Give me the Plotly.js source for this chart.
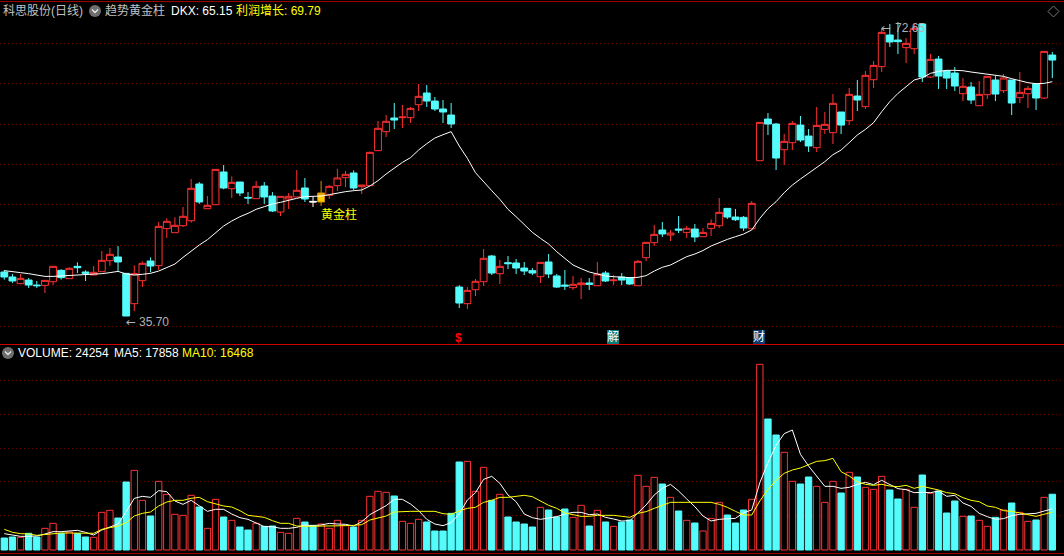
<!DOCTYPE html>
<html><head><meta charset="utf-8">
<script src="https://cdn.plot.ly/plotly-3.0.1.min.js"></script>
<style>html,body{margin:0;padding:0;background:#000;overflow:hidden}#c{width:1064px;height:556px}</style>
</head><body><div id="c"></div>
<script>
const open=[41.23,40.60,39.76,40.22,39.59,39.55,40.01,41.44,40.39,41.94,41.23,40.85,41.27,42.65,43.12,41.06,37.25,40.14,42.61,42.03,
46.68,46.17,47.05,47.68,52.29,49.19,49.69,53.80,51.70,52.54,50.61,50.45,52.04,50.78,48.77,50.41,50.66,51.79,50.11,50.03,
50.87,52.08,53.09,53.67,51.95,52.08,56.48,58.87,60.59,60.63,60.63,62.26,63.73,62.72,61.72,60.96,39.34,37.25,39.01,40.01,
43.24,41.02,42.40,42.36,41.73,41.40,40.64,42.49,40.73,39.59,39.26,39.64,39.85,39.51,41.10,40.14,40.60,40.47,39.51,43.03,
44.92,46.51,45.88,46.63,46.21,46.63,45.67,46.72,47.05,49.23,48.14,48.10,46.67,55.22,60.46,59.83,56.60,57.48,59.70,58.32,
56.86,59.16,58.74,61.34,60.25,63.35,62.01,65.40,67.04,71.02,70.39,69.43,69.30,72.40,65.74,68.00,66.49,66.24,63.64,64.48,
62.13,63.52,65.36,64.02,65.36,63.14,63.64,64.86,63.10,68.50];
const close=[40.60,40.10,40.43,39.59,39.51,40.18,41.94,40.52,41.69,41.77,41.06,41.19,42.70,43.45,42.49,35.70,41.02,42.32,41.98,46.97,
47.60,47.10,48.23,51.75,50.03,49.61,54.13,51.79,52.50,51.16,50.53,52.00,50.66,48.90,50.74,50.74,51.50,50.41,50.03,51.16,
52.00,53.05,53.51,51.79,52.16,56.27,59.29,60.17,60.33,60.71,61.80,63.31,62.72,61.72,61.34,59.83,37.33,38.92,40.06,42.95,
41.10,41.94,42.28,41.73,41.35,41.10,42.44,40.98,39.34,39.47,39.68,39.85,39.68,40.98,40.10,40.22,40.22,39.72,42.57,44.96,
45.96,46.01,46.13,46.51,46.72,45.63,46.21,47.34,48.73,48.14,47.80,46.76,49.86,60.04,59.83,55.56,57.65,59.91,57.82,57.07,
59.66,59.79,62.43,59.70,63.56,62.85,65.95,67.20,71.35,70.14,70.18,69.97,71.86,65.74,67.96,65.86,65.61,64.61,64.57,62.85,
63.56,65.82,63.60,65.61,62.47,63.81,64.31,63.10,68.96,67.87];
const high=[41.48,40.98,40.98,40.47,40.10,40.18,41.94,41.57,41.82,42.45,41.44,41.98,43.87,44.25,44.50,41.06,42.07,42.57,43.07,47.51,
47.98,48.10,49.40,52.92,52.54,50.78,54.13,54.68,53.25,52.54,51.28,52.67,52.54,51.28,50.78,51.16,54.05,53.05,50.66,52.67,
52.17,54.18,53.92,54.01,52.16,56.35,60.21,60.96,62.47,62.22,61.97,64.86,64.73,63.23,62.85,62.47,39.59,39.34,40.35,44.12,
43.37,42.74,43.24,42.86,42.49,41.73,42.44,43.49,40.98,41.48,40.73,40.47,40.47,42.49,41.35,40.85,41.10,40.60,42.74,45.00,
47.14,47.51,46.51,48.27,47.01,47.26,46.76,47.85,50.53,49.27,49.15,48.27,50.15,60.08,61.21,59.96,58.57,60.21,60.84,59.20,
61.97,61.34,63.60,61.34,64.36,65.36,66.49,67.75,71.86,72.40,72.65,70.64,72.48,72.40,68.63,68.38,66.62,67.00,65.61,65.11,
65.24,65.86,65.86,66.12,65.36,66.37,64.61,64.98,68.96,68.88];
const low=[40.27,39.85,39.76,39.22,39.22,38.59,39.59,40.27,40.39,41.10,40.10,40.85,41.27,41.98,41.35,35.70,36.33,39.35,41.19,41.48,
45.50,46.17,46.89,47.43,49.78,49.19,49.69,51.62,50.53,50.78,49.78,50.45,49.78,48.77,48.27,49.15,50.66,50.03,49.40,49.53,
50.41,51.41,51.91,51.54,51.03,52.08,56.48,58.20,59.20,59.33,59.96,61.47,61.97,61.47,59.96,59.33,36.70,36.58,38.21,39.47,
40.85,39.72,41.61,40.98,40.85,40.85,39.85,40.47,39.22,38.97,38.97,37.83,38.97,39.51,39.97,39.59,39.59,39.59,39.51,42.61,
44.50,45.63,45.13,46.13,45.50,45.00,45.67,45.75,46.76,47.89,47.64,46.38,46.59,55.22,58.45,54.05,54.68,56.56,57.57,56.31,
56.31,58.57,57.32,58.57,59.70,61.46,61.72,64.36,66.37,69.51,68.63,67.50,68.63,65.11,65.61,64.23,64.23,63.98,62.72,62.35,
62.13,62.97,62.72,63.73,60.96,62.47,61.84,61.59,62.97,65.61];
const dkx=[41.40,41.23,41.15,41.02,40.81,40.68,40.68,40.73,40.77,40.81,40.85,40.89,41.02,41.15,41.31,40.98,40.85,40.94,41.06,41.35,
41.77,42.23,43.07,43.87,44.62,45.29,46.13,47.01,47.64,48.18,48.60,49.11,49.44,49.78,49.99,50.28,50.49,50.70,50.74,50.78,
50.95,51.16,51.33,51.45,51.54,52.04,52.71,53.55,54.30,55.01,55.60,56.56,57.36,58.07,58.49,58.87,57.07,55.52,53.71,52.54,
51.45,50.36,49.11,48.18,47.14,46.21,45.46,44.75,43.78,42.90,42.11,41.65,41.23,40.98,40.73,40.64,40.56,40.52,40.56,40.77,
41.35,41.82,42.11,42.65,43.16,43.49,43.93,44.50,44.94,45.33,45.67,46.00,46.51,47.97,49.19,50.07,51.20,52.16,52.92,53.63,
54.38,55.10,55.98,56.56,57.49,58.45,59.16,60.00,61.38,62.64,63.68,64.52,65.36,65.65,66.20,66.45,66.58,66.58,66.53,66.37,
66.24,66.16,65.95,65.82,65.53,65.28,65.03,64.90,64.94,65.15];
const volume=[5220,5655,5510,7250,5655,9425,11600,7250,7830,7105,5655,5510,16385,17255,13920,29580,34655,21605,14790,29870,
24215,15515,15080,23780,18705,9425,22040,14355,12905,10005,8700,11600,10295,10440,7685,7250,13775,12180,10730,11310,
9425,12905,10730,10005,12905,23345,25520,25085,23490,12470,11600,13340,12180,8265,8265,15950,38280,38570,25520,35960,
21605,24215,14355,12180,11310,10005,18560,17400,14355,17835,14210,19430,10440,17255,12180,10295,12180,13050,32480,27695,
31610,28710,22910,16965,12905,11745,8265,13775,20735,15225,11745,17400,22040,80765,56985,50025,42485,29870,28710,31755,
27695,20735,29870,24795,33785,31755,27260,26390,32045,26100,22185,26390,18560,32625,24650,25665,16095,21315,14645,14790,
12905,10295,14210,17400,20445,16385,12470,13050,22910,24254];
const ma5=[7105,6380,5945,5945,6090,6960,7975,7975,8120,8555,7685,6525,8700,9860,11310,16675,22475,23345,22910,25810,
25375,21315,19865,21605,19285,16820,17690,17690,15660,14065,13340,11600,10150,10150,9425,9425,9860,10875,10585,10875,
11600,11310,11165,10440,12325,15370,17400,19285,22040,22040,20010,17110,13340,11310,10585,11890,15660,21750,24940,30740,
32045,29000,23925,21025,15660,14065,13340,13775,14500,15660,16385,16385,15370,15660,14210,13485,12615,12760,16240,19575,
23925,26825,28565,25665,22185,18850,14790,12615,13340,13630,13775,16240,17400,29290,37990,45530,50605,52200,41615,36540,
31900,27695,27695,26825,27260,28565,29435,28420,30305,28565,26680,26245,24940,25085,24940,25665,23345,23780,20445,18995,
15950,14500,13340,13630,14935,15515,15805,15950,16965,17858];
const ma10=[8990,7685,7105,6960,6380,6815,7250,7395,7395,7395,7250,7250,8990,9860,10440,11890,14790,15950,16530,19140,
20880,21605,21605,22475,22910,21025,20010,19140,18705,17110,15080,14645,14210,12760,11600,11600,10440,10295,10295,10295,
10295,10440,10585,10730,11020,13050,13775,14790,16530,16820,16820,16820,16820,16820,15805,15515,16965,18125,18560,20735,
21605,22910,22910,23345,23780,23200,21460,19430,18125,16095,15370,14645,14645,15080,15080,15080,14645,14210,15950,16675,
18125,19285,20735,20735,20735,20735,20735,20735,19865,18560,16820,15225,15225,21315,26390,30305,33350,34800,35670,36975,
38570,38860,39875,34075,32190,29725,28565,28130,28565,27840,27550,28130,26825,27695,26970,26100,24940,24505,22765,21605,
21025,19140,18560,17110,16820,15950,15370,14645,15660,16468];
const priceGrid=[34.40,39.56,44.60,49.74,54.77,59.80,64.95,69.98];
const volumeGrid=[15095,29880,44240,59030,73820];
const whiteDoji=[38];
const goldBar=[39];

const RED='#FF3232',CYAN='#54FCFC',WHITE='#FFFFFF',YEL='#FFFF00';
const idx=open.map((_,i)=>i);
function candle(list,opts){
  return Object.assign({type:'candlestick',xaxis:'x',yaxis:'y',hoverinfo:'skip',
    x:list,open:list.map(i=>open[i]),high:list.map(i=>high[i]),low:list.map(i=>low[i]),close:list.map(i=>close[i]),whiskerwidth:0},opts);
}
const special=whiteDoji.concat(goldBar);
const normal=idx.filter(i=>!special.includes(i));
const side=(c,f)=>({line:{color:c,width:1},fillcolor:f});
const traces=[
  candle(normal.filter(i=>close[i]>open[i]),{increasing:side(RED,'#000'),decreasing:side(CYAN,CYAN)}),
  candle(normal.filter(i=>close[i]<=open[i]),{increasing:side(RED,'#000'),decreasing:side(CYAN,CYAN)}),
  candle(whiteDoji,{increasing:side(WHITE,WHITE),decreasing:side(WHITE,WHITE)}),
  candle(goldBar,{increasing:side('#D89000','#FFCC00'),decreasing:side('#D89000','#FFCC00')}),
  {type:'scatter',mode:'lines',x:idx,y:dkx,xaxis:'x',yaxis:'y',line:{color:WHITE,width:1},hoverinfo:'skip'},
  {type:'bar',x:idx,y:volume,xaxis:'x2',yaxis:'y2',width:0.78,hoverinfo:'skip',
    marker:{color:idx.map(i=>close[i]>open[i]?'#000':CYAN),line:{color:idx.map(i=>close[i]>open[i]?RED:CYAN),width:1}}},
  {type:'scatter',mode:'lines',x:idx,y:ma5,xaxis:'x2',yaxis:'y2',line:{color:WHITE,width:1},hoverinfo:'skip'},
  {type:'scatter',mode:'lines',x:idx,y:ma10,xaxis:'x2',yaxis:'y2',line:{color:YEL,width:1},hoverinfo:'skip'}
];
const F='"Liberation Sans","Noto Sans CJK SC",sans-serif';
function label(text,px,py,color,extra){
  return Object.assign({text:text,xref:'paper',yref:'paper',x:px/1064,y:1-py/556,xanchor:'left',yanchor:'middle',showarrow:false,
    font:{family:F,size:12,color:color},borderpad:0,borderwidth:0},extra||{});
}
const arrowFont={family:'"DejaVu Sans"',size:12,color:'#B0B0B0'};
const annotations=[
  label('科思股份(日线)',3,11,'#C0C0C0'),
  label('趋势黄金柱',105,11,'#C0C0C0'),
  label('DKX: 65.15',171,11,WHITE),
  label('利润增长: 69.79',236,11,YEL),
  label('VOLUME: 24254',18,353,WHITE),
  label('MA5: 17858',114,353,WHITE),
  label('MA10: 16468',182,353,YEL),
  label('黄金柱',321,214,YEL),
  label('←',126,322,'#B0B0B0',{font:arrowFont}),
  label('35.70',139,322,'#B0B0B0'),
  label('←',881,28,'#B0B0B0',{font:arrowFont}),
  label('72.65',895,28,'#B0B0B0'),
  label('<b>$</b>',454.5,338,'#FF0000'),
  label('解',606.5,337,WHITE,{bgcolor:'#0A7A7A'}),
  label('财',752.5,337,WHITE,{bgcolor:'#0A3A6E'})
];
const PX=(x,y)=>(x/1064).toFixed(5)+','+(1-y/556).toFixed(5);
function circleIcon(cx,cy){
  return [{type:'circle',xref:'paper',yref:'paper',x0:(cx-6)/1064,x1:(cx+6)/1064,y0:1-(cy+6)/556,y1:1-(cy-6)/556,fillcolor:'#6E6E6E',line:{width:0}},
    {type:'path',xref:'paper',yref:'paper',path:'M'+PX(cx-3,cy-1.5)+'L'+PX(cx,cy+1.5)+'L'+PX(cx+3,cy-1.5),line:{color:'#E8E8E8',width:1.4}}];
}
function hline(y,c,w){return {type:'line',xref:'paper',yref:'paper',x0:0,x1:1,y0:1-y/556,y1:1-y/556,line:{color:c,width:w}};}
const shapes=[hline(1.5,'#A00000',1),hline(344.5,'#D00000',1),hline(553.5,'#A00000',1),
  {type:'path',xref:'paper',yref:'paper',path:'M'+PX(1053.5,6)+'L'+PX(1059,11.5)+'L'+PX(1053.5,17)+'L'+PX(1048,11.5)+'Z',line:{color:'#7A7A7A',width:1}}
].concat(circleIcon(95,11),circleIcon(8,353));
const grid='#640000';
const layout={width:1064,height:556,margin:{l:0,r:0,t:0,b:0},paper_bgcolor:'#000',plot_bgcolor:'#000',showlegend:false,
  boxmode:'overlay',boxgap:0.16,boxgroupgap:0,bargap:0,barmode:'overlay',dragmode:false,
  xaxis:{type:'linear',domain:[0,1],range:[-0.53,130.44],visible:false,fixedrange:true,rangeslider:{visible:false},anchor:'y'},
  xaxis2:{type:'linear',domain:[0,1],range:[-0.53,130.44],visible:false,fixedrange:true,anchor:'y2'},
  yaxis:{domain:[212/556,1],range:[32.18,75.42],tickmode:'array',tickvals:priceGrid,ticks:'',showticklabels:false,zeroline:false,showline:false,
    gridcolor:grid,griddash:'1px,3px',gridwidth:1,fixedrange:true,anchor:'x'},
  yaxis2:{domain:[0,211/556],range:[-2610,89175],tickmode:'array',tickvals:volumeGrid,ticks:'',showticklabels:false,zeroline:false,showline:false,
    gridcolor:grid,griddash:'1px,3px',gridwidth:1,fixedrange:true,anchor:'x2'},
  annotations:annotations,shapes:shapes};
Plotly.newPlot('c',traces,layout,{staticPlot:true,displayModeBar:false});
</script></body></html>
